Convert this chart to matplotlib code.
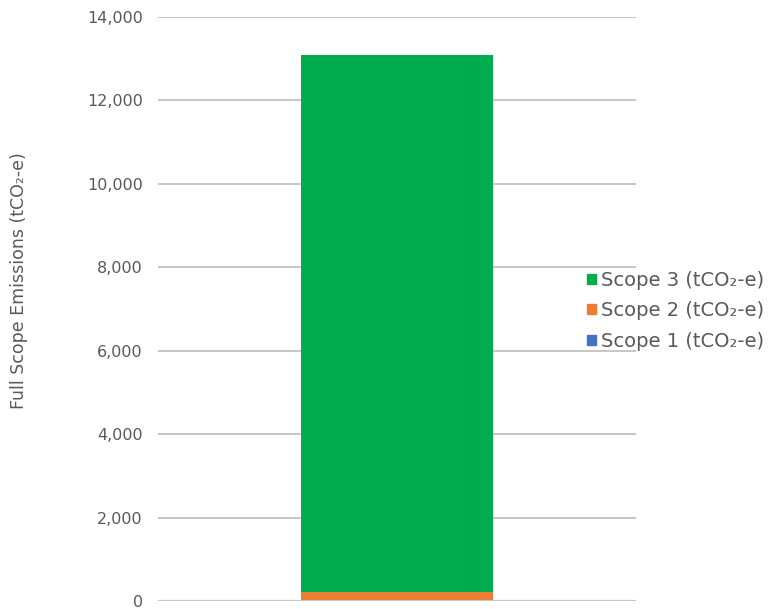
import matplotlib
matplotlib.use("Agg")
import matplotlib.pyplot as plt
from matplotlib.patches import Patch

plt.rcParams["font.family"] = ["DejaVu Sans"]

# emissions by scope, tCO2-e
scopes = ["Scope 1 (tCO₂-e)", "Scope 2 (tCO₂-e)", "Scope 3 (tCO₂-e)"]
values = [15, 195, 12880]
colors = ["#4472c4", "#ed7d31", "#00ad4e"]
yticks = [0, 2000, 4000, 6000, 8000, 10000, 12000, 14000]

text_color = "#595959"
grid_color = "#c6c6c6"

fig = plt.figure(figsize=(7.7, 6.09), dpi=100)
ax = fig.add_axes([0.205, 0.0131, 0.621, 0.959])

bottom = 0
for name, v, c in zip(scopes, values, colors):
    ax.bar(0, v, width=0.4, bottom=bottom, color=c, label=name, zorder=3)
    bottom += v

ax.set_xlim(-0.5, 0.5)
ax.set_ylim(0, 14000)
ax.set_yticks(yticks)
ax.set_yticklabels([f"{t:,}" for t in yticks])
ax.set_xticks([])
ax.grid(axis="y", color=grid_color, linewidth=1.4, zorder=0)
ax.tick_params(axis="y", length=0, pad=10.8, labelsize=11.5, colors=text_color)
for s in ax.spines.values():
    s.set_visible(False)
ax.axhline(0, color=grid_color, linewidth=1.6, zorder=4)

ax.set_ylabel("Full Scope Emissions (tCO₂-e)", color=text_color, fontsize=12.5)
ax.yaxis.set_label_coords(-0.272, 0.548)

handles = [Patch(color=c, label=n) for n, c in zip(scopes, colors)][::-1]
ax.legend(handles=handles, loc="center left", bbox_to_anchor=(0.898, 0.497),
          frameon=False, fontsize=14, labelcolor=text_color,
          handlelength=0.43, handleheight=0.43, handletextpad=0.3, labelspacing=0.6,
          borderpad=0, borderaxespad=0)

fig.savefig("out.png", dpi=100)
